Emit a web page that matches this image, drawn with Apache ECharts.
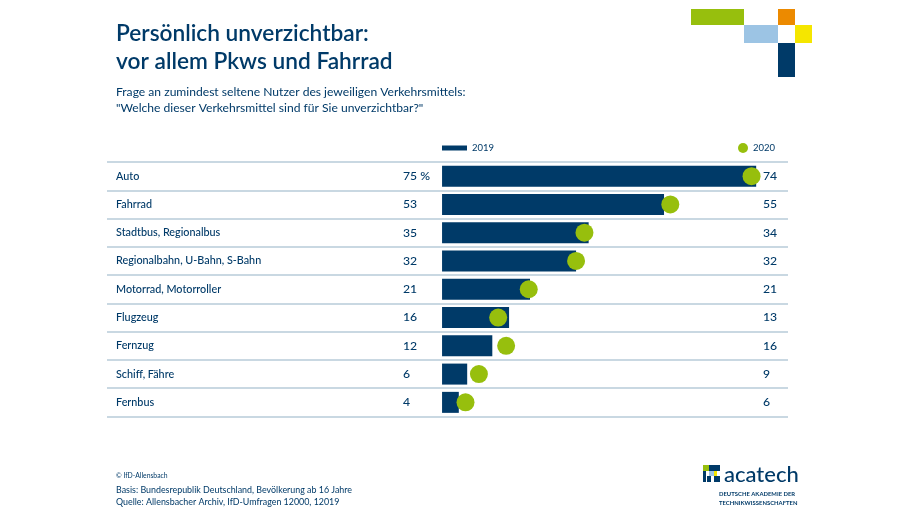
<!DOCTYPE html>
<html>
<head>
<meta charset="utf-8">
<script src="https://cdn.jsdelivr.net/npm/echarts@6/dist/echarts.min.js"></script>
<style>
  html, body { margin: 0; padding: 0; background: #fff; }
  #chart { width: 920px; height: 510px; }
</style>
</head>
<body>
<div id="chart"></div>
<script>
const categories = ["Auto", "Fahrrad", "Stadtbus, Regionalbus", "Regionalbahn, U-Bahn, S-Bahn", "Motorrad, Motorroller", "Flugzeug", "Fernzug", "Schiff, Fähre", "Fernbus"];
const values2019 = [75, 53, 35, 32, 21, 16, 12, 6, 4];
// dots sit on the unrounded values, the printed labels are rounded
const values2020 = [73.9, 54.5, 34, 32, 20.7, 13.4, 15.3, 8.8, 5.6];
const labels2019 = ["75 %", "53", "35", "32", "21", "16", "12", "6", "4"];
const labels2020 = ["74", "55", "34", "32", "21", "13", "16", "9", "6"];

const NAVY = "#003a68";
const GREEN = "#97bf0d";
const FONT = "Lato";

const chart = echarts.init(document.getElementById("chart"));

function labelAxis(data, position, margin, fontSize, paddingTop) {
  return {
    type: "category",
    inverse: true,
    position: position,
    data: data,
    axisLine: { show: false },
    axisTick: { show: false },
    splitLine: { show: false },
    axisLabel: { inside: true, margin: margin, align: "left", color: NAVY, fontFamily: FONT, fontSize: fontSize, fontWeight: 500, interval: 0, padding: [paddingTop, 0, 0, 0] }
  };
}

function rect(x, y, width, height, fill) {
  return { type: "rect", shape: { x, y, width, height }, style: { fill } };
}

function heading(text, left, top, fontSize, lineHeight, fontWeight) {
  return { text, left, top, padding: 0, textStyle: { color: NAVY, fontFamily: FONT, fontSize, lineHeight, fontWeight } };
}

const catAxis = labelAxis(categories, "left", 9, 10.8, 6);
catAxis.splitLine = { show: true, interval: 0, lineStyle: { color: "#b7cbd9", width: 1.5 } };

chart.setOption({
  animation: false,
  backgroundColor: "#fff",
  textStyle: { fontFamily: FONT },
  title: [
    heading("Persönlich unverzichtbar:\nvor allem Pkws und Fahrrad", 116, 20, 22.7, 28, 600),
    heading("Frage an zumindest seltene Nutzer des jeweiligen Verkehrsmittels:\n\"Welche dieser Verkehrsmittel sind für Sie unverzichtbar?\"", 116, 84, 12.1, 16, 400),
    heading("© IfD-Allensbach", 116, 470, 6.8, 11, 400),
    heading("Basis: Bundesrepublik Deutschland, Bevölkerung ab 16 Jahre\nQuelle: Allensbacher Archiv, IfD-Umfragen 12000, 12019", 116, 484, 8.9, 12, 400),
    heading("acatech", 724, 460, 22, 30, 500),
    heading("DEUTSCHE AKADEMIE DER\nTECHNIKWISSENSCHAFTEN", 719, 490, 5.9, 9, 700)
  ],
  legend: [
    { data: ["2019"], left: 442, top: 143, padding: 0, itemWidth: 25, itemHeight: 5, itemGap: 4, icon: "rect", textStyle: { color: NAVY, fontFamily: FONT, fontSize: 9.5 } },
    { data: ["2020"], left: 738, top: 143, padding: 0, itemWidth: 10, itemHeight: 10, itemGap: 4, icon: "circle", textStyle: { color: NAVY, fontFamily: FONT, fontSize: 9.5 } }
  ],
  grid: { left: 107, right: 132, top: 162, height: 254.5 },
  xAxis: { type: "value", min: -80, max: 82.6, show: false },
  yAxis: [
    catAxis,
    labelAxis(labels2019, "left", 296, 12.2, 4),
    labelAxis(labels2020, "right", 25, 12.2, 4)
  ],
  series: [
    { name: "2019", type: "bar", data: values2019, barWidth: 21, itemStyle: { color: NAVY }, z: 2 },
    { name: "2020", type: "scatter", data: values2020, symbolSize: 18, itemStyle: { color: GREEN, opacity: 1 }, z: 3 }
  ],
  graphic: [
    rect(691, 9, 53, 16, GREEN),
    rect(744, 25, 34, 18, "#9cc4e4"),
    rect(778, 9, 17, 16, "#ec8a00"),
    rect(795, 25, 17, 18, "#f5e600"),
    rect(778, 43, 17, 34, NAVY),
    // acatech logo mark
    rect(703, 465, 6, 6, GREEN),
    rect(709, 465, 11, 6, NAVY),
    rect(709, 471, 5, 5, "#9cc4e4"),
    rect(703, 471, 3, 11, NAVY),
    rect(707, 476, 4, 6, NAVY),
    rect(714, 476, 6, 6, NAVY),
    rect(714, 471, 3, 5, "#f5e600")
  ]
});
</script>
</body>
</html>
